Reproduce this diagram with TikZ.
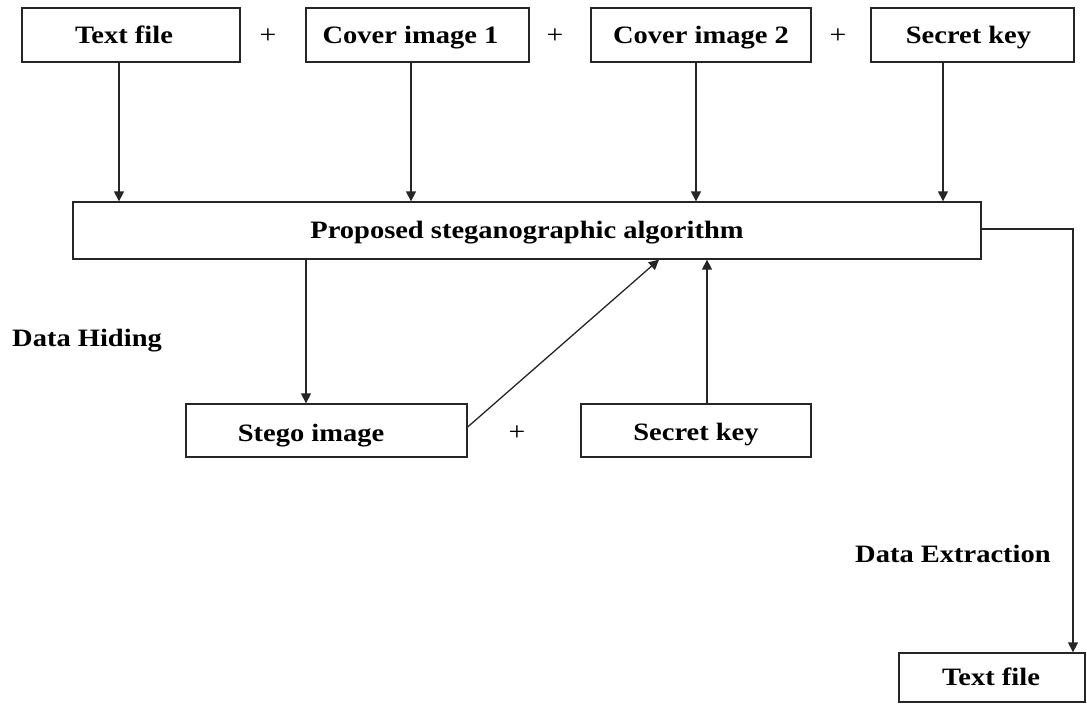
\documentclass[tikz,border=0pt]{standalone}
\usepackage{fontspec}
\setmainfont{Liberation Serif}[FakeStretch=1.14]
\usetikzlibrary{arrows.meta}

\tikzset{
  ink/.style={draw=black!85, line width=1.3pt},
  box/.style={ink, rectangle, inner sep=0pt, text height=16.5pt, text depth=0pt,
              font=\fontsize{25}{30}\selectfont\bfseries},
  lbl/.style={inner sep=0pt, font=\fontsize{25}{30}\selectfont\bfseries},
  plus/.style={inner sep=0pt, font=\fontsize{26}{30}\selectfont},
  arr/.style={ink, -{Triangle[width=10pt,length=10pt]}},
}

\begin{document}
\begin{tikzpicture}[x=1pt, y=-1pt]
  \useasboundingbox (0,0) rectangle (1087,704);

  % inputs
  \node[box, minimum width=218pt, minimum height=54pt] (tf1)  at (131,35)   {\hspace*{-14pt}Text file};
  \node[box, minimum width=223pt, minimum height=54pt] (cov1) at (417.5,35) {\hspace*{-14pt}Cover image 1};
  \node[box, minimum width=220pt, minimum height=54pt] (cov2) at (701,35)   {Cover image 2};
  \node[box, minimum width=203pt, minimum height=54pt] (key1) at (972.5,35) {\hspace*{-8pt}Secret key};

  \node[plus] (p1) at (268,36) {+};
  \node[plus] (p2) at (555,36) {+};
  \node[plus] (p3) at (838,36) {+};

  % algorithm
  \node[box, minimum width=908pt, minimum height=57pt] (alg) at (527,230.5) {Proposed steganographic algorithm};

  % hiding result and extraction inputs
  \node[box, minimum width=281pt, minimum height=53pt] (stego) at (326.5,430.5) {\hspace*{-31pt}\raisebox{-3pt}{Stego image}};
  \node[box, minimum width=230pt, minimum height=53pt] (key2)  at (696,430.5)   {\raisebox{-2pt}{Secret key}};
  \node[plus] (p4) at (517,433) {+};

  % extraction output
  \node[box, minimum width=186pt, minimum height=49pt] (tf2) at (992,677.5) {\hspace*{-2pt}Text file};

  % phase labels
  \node[lbl, anchor=base west] (hide) at (12,346)  {Data Hiding};
  \node[lbl, anchor=base west] (extr) at (855,562) {Data Extraction};

  % connectors
  \draw[arr] ([xshift=-12pt]tf1.south)    -- ([xshift=-12pt]tf1.south |- alg.north);
  \draw[arr] ([xshift=-6.5pt]cov1.south)  -- ([xshift=-6.5pt]cov1.south |- alg.north);
  \draw[arr] ([xshift=-5pt]cov2.south)    -- ([xshift=-5pt]cov2.south |- alg.north);
  \draw[arr] ([xshift=-29.5pt]key1.south) -- ([xshift=-29.5pt]key1.south |- alg.north);

  \draw[arr] ([xshift=-20.5pt]stego.north |- alg.south) -- ([xshift=-20.5pt]stego.north);
  \draw[arr] ([yshift=3.5pt]stego.east) -- ([xshift=132pt]alg.south);
  \draw[arr] ([xshift=11pt]key2.north) -- ([xshift=11pt]key2.north |- alg.south);

  \draw[arr] ([yshift=1.5pt]alg.east) -| ([xshift=81pt]tf2.north);
\end{tikzpicture}
\end{document}
